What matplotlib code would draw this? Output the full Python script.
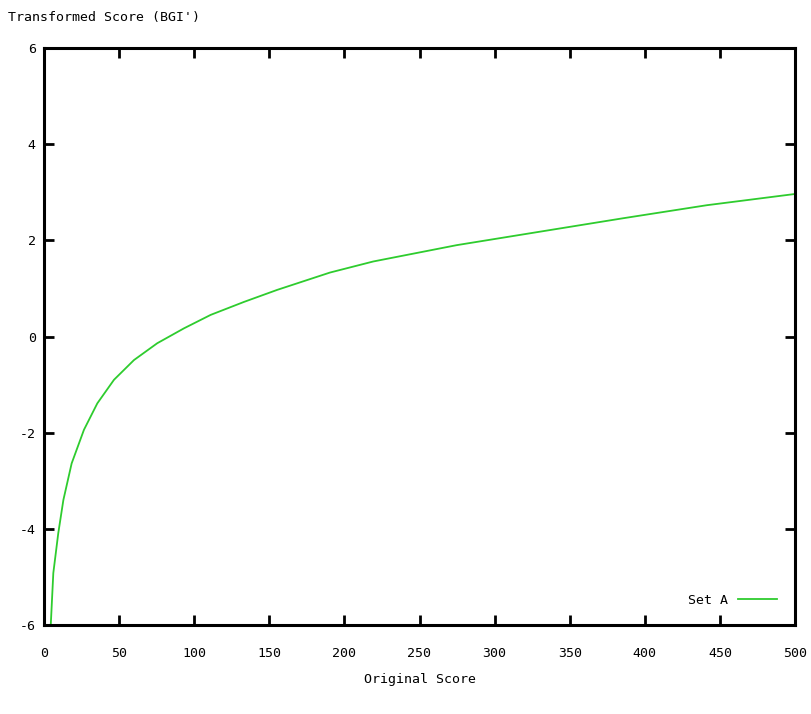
import matplotlib
matplotlib.use("Agg")
import matplotlib.pyplot as plt

original_score = [4.5, 6.2, 9.5, 12.9, 18.4, 26.6, 35.5, 46.6, 59.9, 75.4, 93.2,
                  111.0, 133.2, 155.3, 190.4, 219.2, 274.8, 330.2, 385.7, 441.2, 499.0]
transformed_score = [-6.0, -4.92, -4.09, -3.40, -2.64, -1.94, -1.39, -0.90, -0.49, -0.14, 0.17,
                     0.45, 0.72, 0.97, 1.33, 1.56, 1.90, 2.18, 2.46, 2.73, 2.96]
x_ticks = [0, 50, 100, 150, 200, 250, 300, 350, 400, 450, 500]
y_ticks = [-6, -4, -2, 0, 2, 4, 6]

FONT = "DejaVu Sans Mono"
plt.rcParams["font.family"] = [FONT]
plt.rcParams["font.size"] = 9.5
plt.rcParams["axes.unicode_minus"] = False

fig = plt.figure(figsize=(8.11, 7.14), dpi=100)
ax = fig.add_axes([44/811, 1-625/714, (795-44)/811, (625-48)/714])

ax.plot(original_score, transformed_score, color="#2ecc2e", lw=1.3, label="Set A",
        solid_joinstyle="round")
ax.set_xlim(0, 500)
ax.set_ylim(-6, 6)
ax.set_xticks(x_ticks)
ax.set_yticks(y_ticks)
for s in ax.spines.values():
    s.set_linewidth(2.2)
ax.tick_params(direction="in", length=7, width=2, top=True, right=True, labelsize=9.5)
ax.tick_params(axis="x", pad=16)
ax.tick_params(axis="y", pad=6)

ax.set_xlabel("Original Score", labelpad=9, fontsize=9.5)
fig.text(8/811, 1-18/714, "Transformed Score (BGI')", ha="left", va="center", fontsize=9.5)

leg = ax.legend(loc="lower right", frameon=False, handlelength=2.9, markerfirst=False,
                borderaxespad=1.0, handletextpad=0.8, fontsize=9.5)

fig.savefig("out.png", dpi=100, facecolor="white")
